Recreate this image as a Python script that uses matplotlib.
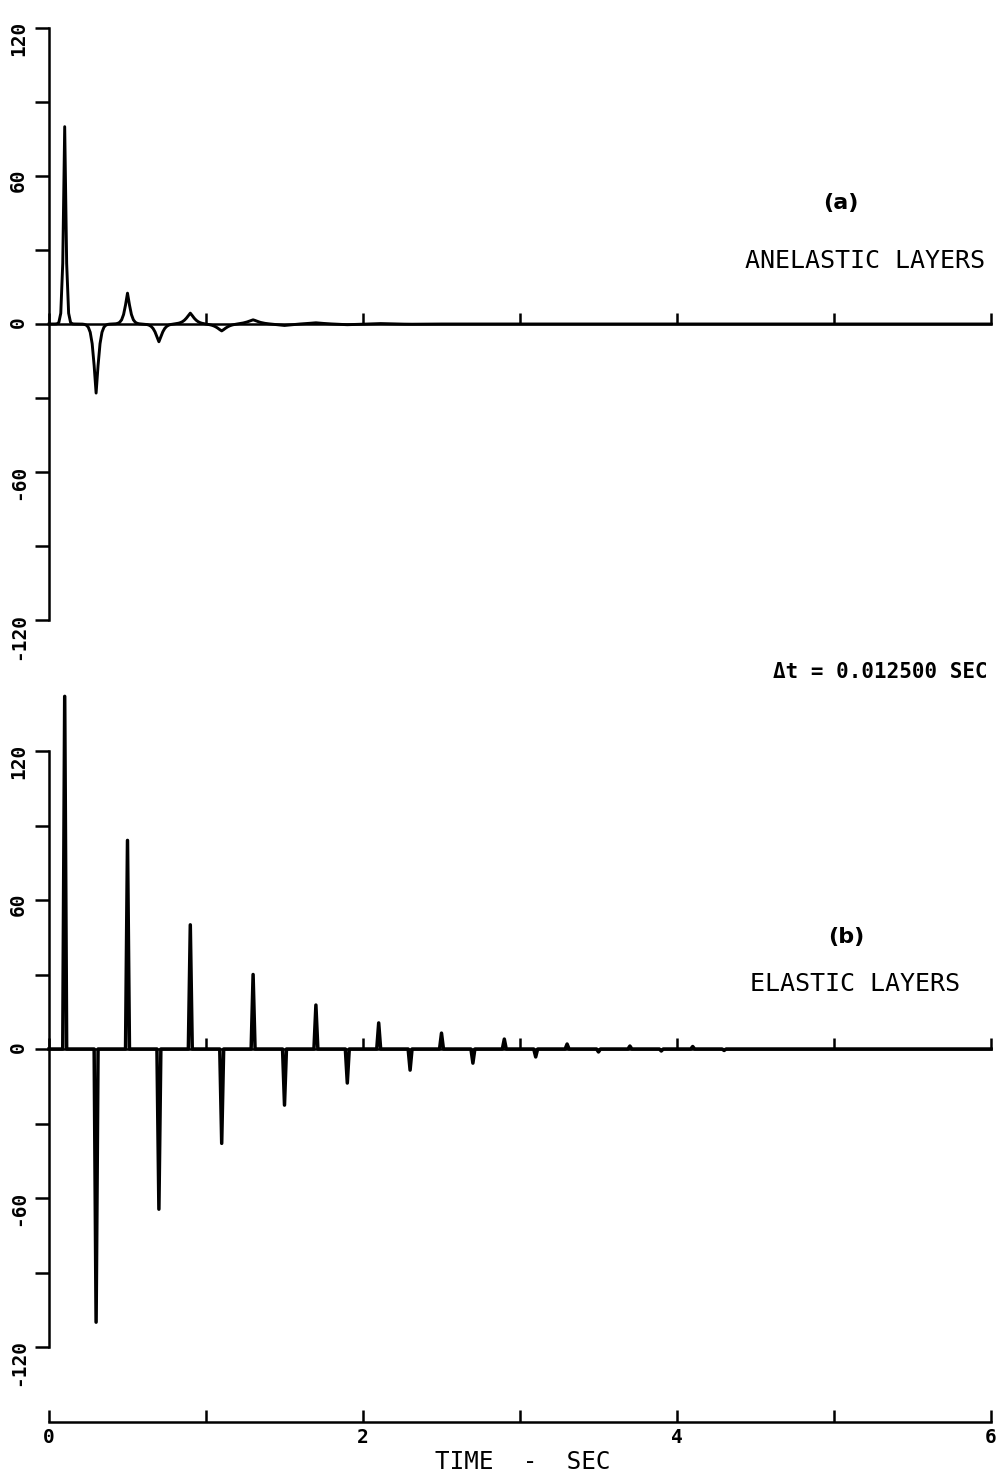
import numpy as np
import matplotlib
matplotlib.use('Agg')
import matplotlib.pyplot as plt
from matplotlib.ticker import FixedLocator, FixedFormatter

# ---------------- data ----------------
DT = 0.0125          # sample interval, s
T_END = 6.0

# anelastic layers: pulse arrival times (s), peak amplitudes, pulse widths (s)
anelastic_times = [0.1, 0.3, 0.5, 0.7, 0.9, 1.1, 1.3, 1.5, 1.7, 1.9, 2.1, 2.3]
anelastic_amps = [80, -28, 12.5, -7.2, 4.4, -2.8, 1.7, -0.6, 0.5, -0.3, 0.2, -0.1]
anelastic_width = [0.011, 0.021, 0.022, 0.029, 0.036, 0.042, 0.05, 0.058,
                   0.066, 0.074, 0.082, 0.09]
PULSE_P = 1.3

# elastic layers: spike times (s) and amplitudes
elastic_times = [0.1, 0.3, 0.5, 0.7, 0.9, 1.1, 1.3, 1.5, 1.7, 1.9, 2.1,
                 2.3, 2.5, 2.7, 2.9, 3.1, 3.3, 3.5, 3.7, 3.9, 4.1, 4.3]
elastic_amps = [142, -110, 84, -64.5, 50, -38, 30, -22.6, 17.7, -13.7, 10.5,
                -8.5, 6.4, -5.7, 4.0, -3.2, 2.0, -1.2, 1.2, -0.8, 1.0, -0.6]

y_ticks = [-120, -90, -60, -30, 0, 30, 60, 90, 120]
y_labels = ['-120', '', '-60', '', '0', '', '60', '', '120']
x_ticks = [0, 1, 2, 3, 4, 5, 6]
x_labels = ['0', '', '2', '', '4', '', '6']

# ---------------- traces on the sample grid ----------------
t = np.arange(0, T_END + DT / 2, DT)
anelastic = np.zeros_like(t)
for t0, a, w in zip(anelastic_times, anelastic_amps, anelastic_width):
    anelastic += a * np.exp(-(np.abs(t - t0) / w) ** PULSE_P)
elastic = np.zeros_like(t)
for t0, a in zip(elastic_times, elastic_amps):
    elastic[int(round(t0 / DT))] = a

# ---------------- figure ----------------
W, H = 1005, 1478
fig = plt.figure(figsize=(W / 100, H / 100), dpi=100)
fig.patch.set_facecolor('white')

MONO = 'DejaVu Sans Mono'
LW_AX = 1.8

def px_box(x0, y_top, x1, y_bot):
    return [x0 / W, 1 - y_bot / H, (x1 - x0) / W, (y_bot - y_top) / H]

def style_panel(ax):
    ax.set_xlim(0, T_END)
    ax.set_ylim(-120, 120)
    for s in ('top', 'right'):
        ax.spines[s].set_visible(False)
    ax.spines['bottom'].set_position(('data', 0))
    ax.spines['bottom'].set_linewidth(LW_AX)
    ax.spines['left'].set_linewidth(LW_AX)
    ax.spines['left'].set_bounds(-120, 120)
    ax.xaxis.set_major_locator(FixedLocator(x_ticks))
    ax.tick_params(axis='x', direction='in', length=8, width=LW_AX,
                   labelbottom=False)
    ax.yaxis.set_major_locator(FixedLocator(y_ticks))
    ax.yaxis.set_major_formatter(FixedFormatter(y_labels))
    ax.tick_params(axis='y', direction='out', length=10, width=LW_AX,
                   labelrotation=90, pad=5)
    for lab in ax.get_yticklabels():
        lab.set_fontfamily(MONO)
        lab.set_fontweight('bold')
        lab.set_fontsize(14)
    ax.patch.set_alpha(0)

ax1 = fig.add_axes(px_box(49, 28, 991, 620))
style_panel(ax1)
ax1.plot(t, anelastic, color='black', lw=2.1, clip_on=False)

ax2 = fig.add_axes(px_box(49, 751, 991, 1347))
style_panel(ax2)
ax2.plot(t, elastic, color='black', lw=2.5, clip_on=False)

# separate time axis
ax3 = fig.add_axes(px_box(49, 1421, 991, 1422))
ax3.set_xlim(0, T_END)
ax3.set_yticks([])
for s in ('top', 'right', 'left'):
    ax3.spines[s].set_visible(False)
ax3.spines['bottom'].set_linewidth(LW_AX)
ax3.xaxis.set_major_locator(FixedLocator(x_ticks))
ax3.xaxis.set_major_formatter(FixedFormatter(x_labels))
ax3.tick_params(axis='x', direction='in', length=9, width=LW_AX, pad=4)
for lab in ax3.get_xticklabels():
    lab.set_fontfamily(MONO)
    lab.set_fontweight('bold')
    lab.set_fontsize(14)
ax3.patch.set_alpha(0)

def ftext(x, y, s, **kw):
    fig.text(x / W, 1 - y / H, s, **kw)

ftext(841, 203, '(a)', ha='center', va='center', fontsize=16,
      fontweight='bold', family='DejaVu Sans')
ftext(865, 261, 'ANELASTIC LAYERS', ha='center', va='center',
      fontsize=18, family=MONO)
ftext(988, 672, '\u0394t = 0.012500 SEC', ha='right', va='center',
      fontsize=15, fontweight='bold', family=MONO)
ftext(846, 937, '(b)', ha='center', va='center', fontsize=16,
      fontweight='bold', family='DejaVu Sans')
ftext(855, 984, 'ELASTIC LAYERS', ha='center', va='center',
      fontsize=18, family=MONO)
ftext(523, 1462, 'TIME  -  SEC', ha='center', va='center',
      fontsize=17.5, family=MONO)

fig.savefig('out.png', dpi=100, facecolor='white')
